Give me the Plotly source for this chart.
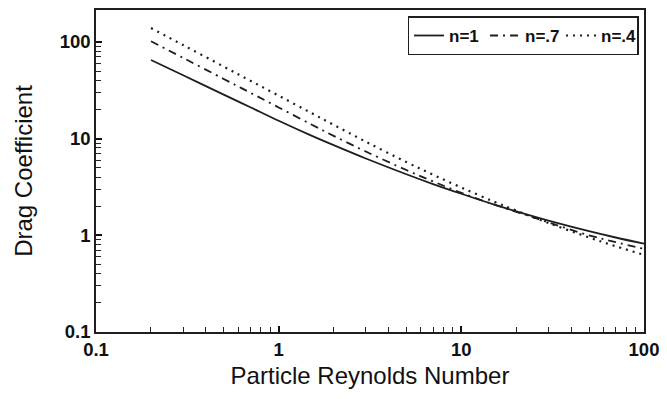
import plotly.graph_objects as go

# Particle Reynolds number grid and drag coefficients for three flow indices
reynolds = [0.2, 0.3, 0.5, 0.7, 1, 1.5, 2, 3, 5, 7, 10, 15, 20, 30, 50, 70, 100]
cd_n1 = [65.0, 45.2, 28.5, 21.1, 15.3, 10.8, 8.56, 6.23, 4.28, 3.39, 2.69, 2.09, 1.77, 1.42, 1.105, 0.949, 0.818]
cd_n07 = [101.6, 68.3, 41.4, 29.8, 21.0, 14.1, 10.68, 7.35, 4.73, 3.61, 2.75, 2.09, 1.75, 1.36, 1.0, 0.85, 0.723]
cd_n04 = [139, 92.7, 55.6, 39.7, 27.8, 18.5, 13.9, 9.29, 5.72, 4.23, 3.12, 2.24, 1.80, 1.34, 0.95, 0.771, 0.627]

series_names = ["n=1", "n=.7", "n=.4"]
major_ticks = [0.1, 1, 10, 100]
minor_ticks = [m * d for d in (0.1, 1, 10) for m in range(2, 10)]

ink = "#1e1e1e"
font_family = "Liberation Sans, Arial, sans-serif"

fig = go.Figure()
styles = [
    dict(dash="solid", width=1.8),
    dict(dash="8px,5px,2px,5px", width=1.8),
    dict(dash="2px,5px", width=2.2),
]
for name, ys, st in zip(series_names, [cd_n1, cd_n07, cd_n04], styles):
    fig.add_trace(go.Scatter(
        x=reynolds, y=ys, name=name, mode="lines",
        line=dict(color=ink, width=st["width"], dash=st["dash"], shape="spline", smoothing=1.0),
    ))

axis_common = dict(
    type="log",
    showgrid=False,
    zeroline=False,
    showline=True,
    linecolor=ink,
    linewidth=1.5,
    mirror=True,
    ticks="inside",
    ticklen=6,
    tickwidth=1.5,
    tickcolor="#111",
    tickvals=major_ticks,
    ticktext=[str(v) for v in major_ticks],
    tickfont=dict(family=font_family, size=18.5, color="#111", weight="bold"),
    minor=dict(ticks="inside", ticklen=5, tickwidth=1.4, tickcolor="#222",
               tickvals=minor_ticks, showgrid=False),
)

fig.update_xaxes(
    **axis_common,
    range=[-1, 2],
    title=dict(text="Particle Reynolds Number", font=dict(family=font_family, size=24, color="#111"), standoff=8),
)
fig.update_yaxes(
    **axis_common,
    range=[-1, 2.33],
    title=dict(text="Drag Coefficient", font=dict(family=font_family, size=24, color="#111"), standoff=20),
)

fig.update_layout(
    width=667, height=399,
    margin=dict(l=96, r=17, t=8, b=67),
    paper_bgcolor="white",
    plot_bgcolor="white",
    legend=dict(
        orientation="h",
        x=0.99, y=0.98, xanchor="right", yanchor="top",
        bgcolor="white",
        bordercolor=ink, borderwidth=1.5,
        font=dict(family=font_family, size=17, color="#111", weight="bold"),
        itemwidth=30,
        entrywidth=31,
        tracegroupgap=0,
    ),
    showlegend=True,
)

fig.write_html("out.html")
